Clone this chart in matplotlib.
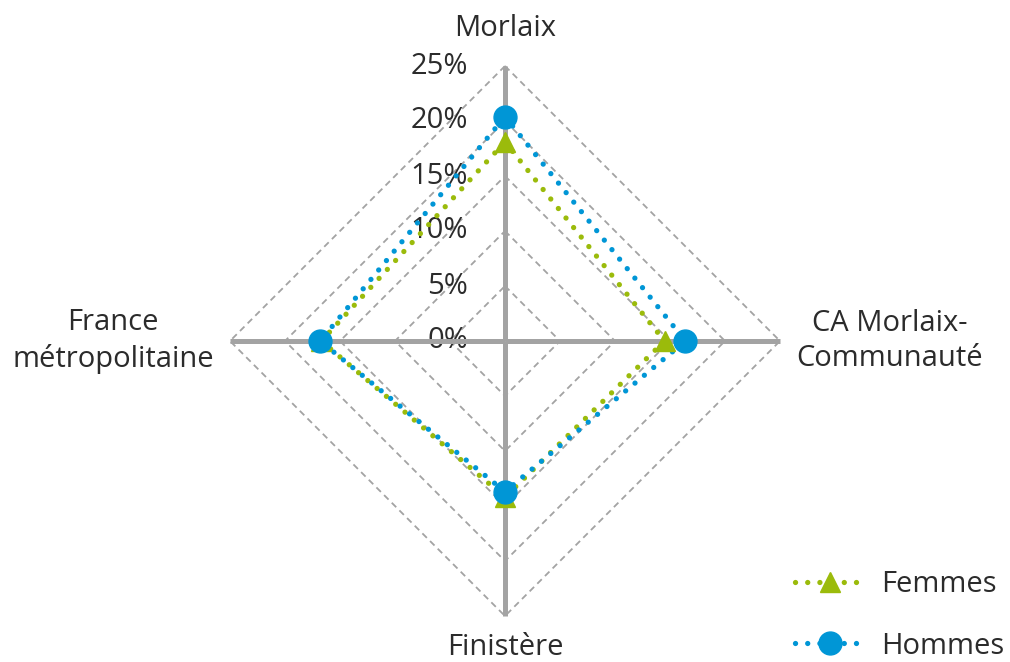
import numpy as np
import matplotlib
matplotlib.use("Agg")
import matplotlib.pyplot as plt

plt.rcParams['font.family'] = ['Open Sans', 'DejaVu Sans']

# data (percent)
categories = ['Morlaix', 'CA Morlaix-\nCommunauté', 'Finistère', 'France\nmétropolitaine']
femmes = [18.1, 14.5, 14.2, 16.7]
hommes = [20.4, 16.4, 13.7, 16.8]
rticks = [0, 5, 10, 15, 20, 25]
rtick_labels = ['0%', '5%', '10%', '15%', '20%', '25%']

green = '#9BBB0B'
blue = '#0096D6'
grey = '#A3A3A3'
txt = '#2B2B2B'
fs = 21

fig = plt.figure(figsize=(10.1, 6.62), dpi=100)
ax = fig.add_axes([230 / 1010, 46 / 662, 550 / 1010, 550 / 662], projection='polar')
ax.set_theta_offset(np.pi / 2)
ax.set_theta_direction(-1)
ax.set_ylim(0, 25)
ax.set_axis_off()

angles = np.linspace(0, 2 * np.pi, len(categories), endpoint=False)
closed = np.append(angles, angles[0])

# dashed diamond grid
for r in rticks[1:]:
    ax.plot(closed, [r] * len(closed), color=grey, lw=1.3, dashes=(3.5, 2.5), zorder=1, clip_on=False)

# spokes
for a in angles:
    ax.plot([a, a], [0, 25], color=grey, lw=3.6, solid_capstyle='butt', zorder=2, clip_on=False)

# radial tick labels
for r, lab in zip(rticks, rtick_labels):
    ax.annotate(lab, xy=(0, r), xytext=(-26.5, 0), textcoords='offset points',
                ha='right', va='center', fontsize=fs, color=txt, zorder=1)

# category labels
offsets = [(0, 27), (79, 0), (0, -23), (-84, 0)]
for a, lab, off in zip(angles, categories, offsets):
    ax.annotate(lab, xy=(a, 25), xytext=off, textcoords='offset points',
                ha='center', va='center', fontsize=fs, color=txt, linespacing=1.3)

def series(vals, color, marker, ms, label):
    v = np.append(vals, vals[0])
    ax.plot(closed, v, color=color, lw=3.8, linestyle=(0, (0.01, 2.3)),
            dash_capstyle='round', zorder=4, clip_on=False)
    ax.plot(angles, vals, linestyle='none', marker=marker, ms=ms, color=color,
            zorder=5, clip_on=False)
    return plt.Line2D([], [], color=color, lw=3.8, linestyle=(0, (0.01, 2.3)),
                      dash_capstyle='round', marker=marker, ms=ms, label=label)

h1 = series(femmes, green, '^', 15, 'Femmes')
h2 = series(hommes, blue, 'o', 16.5, 'Hommes')

fig.legend(handles=[h1, h2], loc='upper left', bbox_to_anchor=(795 / 1010, 1 - 570 / 662),
           frameon=False, fontsize=fs, labelspacing=1.12, handlelength=2.4,
           handletextpad=0.55, borderpad=0, borderaxespad=0, labelcolor=txt)

fig.savefig('out.png', dpi=100)
